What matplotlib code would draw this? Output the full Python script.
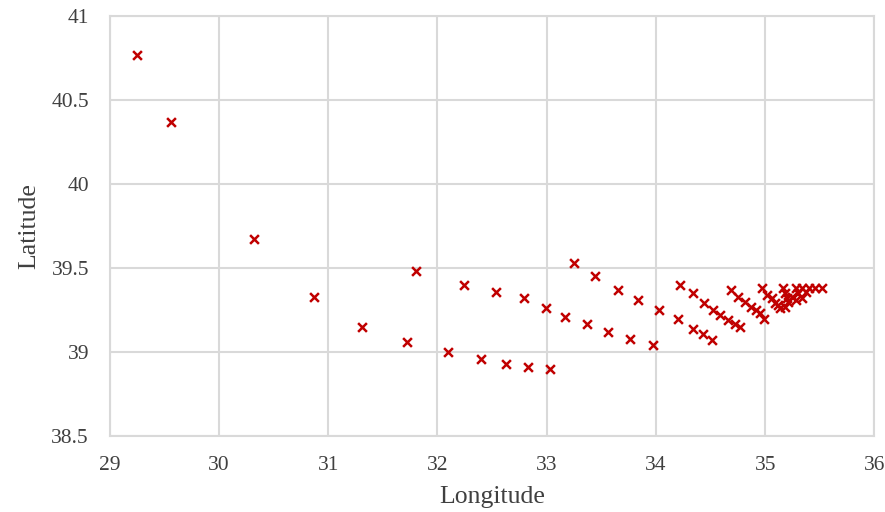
import matplotlib.pyplot as plt

plt.rcParams['font.family'] = ['Liberation Serif', 'DejaVu Serif']

# 经度 / 纬度
longitude = [29.25, 29.56, 30.32, 30.87, 31.31, 31.72, 31.80, 32.10, 32.24, 32.40,
             32.54, 32.63, 32.79, 32.83, 32.99, 33.03, 33.17, 33.25, 33.37, 33.44,
             33.56, 33.65, 33.76, 33.84, 33.97, 34.03,
             34.22, 34.34, 34.44, 34.52, 34.59, 34.66, 34.72, 34.77,
             34.20, 34.34, 34.43, 34.51,
             34.69, 34.75, 34.82, 34.87, 34.92, 34.95, 34.99,
             34.97, 35.02, 35.06, 35.09, 35.14,
             35.16, 35.18, 35.20, 35.12,
             35.28, 35.34, 35.40, 35.46, 35.52,
             35.25, 35.30, 35.37, 35.21, 35.28, 35.34, 35.18]
latitude = [40.77, 40.37, 39.67, 39.33, 39.15, 39.06, 39.48, 39.00, 39.40, 38.96,
            39.36, 38.93, 39.32, 38.91, 39.26, 38.90, 39.21, 39.53, 39.17, 39.45,
            39.12, 39.37, 39.08, 39.31, 39.04, 39.25,
            39.40, 39.35, 39.29, 39.25, 39.22, 39.19, 39.17, 39.15,
            39.20, 39.14, 39.11, 39.07,
            39.37, 39.33, 39.30, 39.27, 39.25, 39.23, 39.20,
            39.38, 39.34, 39.32, 39.29, 39.26,
            39.38, 39.35, 39.32, 39.28,
            39.38, 39.38, 39.38, 39.38, 39.38,
            39.33, 39.35, 39.36, 39.30, 39.31, 39.32, 39.27]

fig, ax = plt.subplots(figsize=(8.85, 5.12), dpi=100)
fig.subplots_adjust(left=0.124, right=0.988, top=0.969, bottom=0.148)

ax.scatter(longitude, latitude, marker='x', s=40, color='#C00000', linewidths=1.8, zorder=3)

ax.set_xlim(29, 36)
ax.set_ylim(38.5, 41)
ax.set_xticks(range(29, 37))
ax.set_yticks([38.5, 39, 39.5, 40, 40.5, 41])
ax.set_yticklabels(['38.5', '39', '39.5', '40', '40.5', '41'])
ax.grid(True, color='#D9D9D9', linewidth=1.5)
ax.set_axisbelow(True)
for s in ax.spines.values():
    s.set_color('#D9D9D9')
    s.set_linewidth(1.5)
ax.tick_params(length=0, labelsize=15.5, colors='#404040')
ax.tick_params(axis='x', pad=14)
ax.tick_params(axis='y', pad=15)
ax.set_xlabel('Longitude', fontsize=18.5, color='#404040', labelpad=8)
ax.set_ylabel('Latitude', fontsize=18.5, color='#404040', labelpad=8)

fig.savefig('out.png')
